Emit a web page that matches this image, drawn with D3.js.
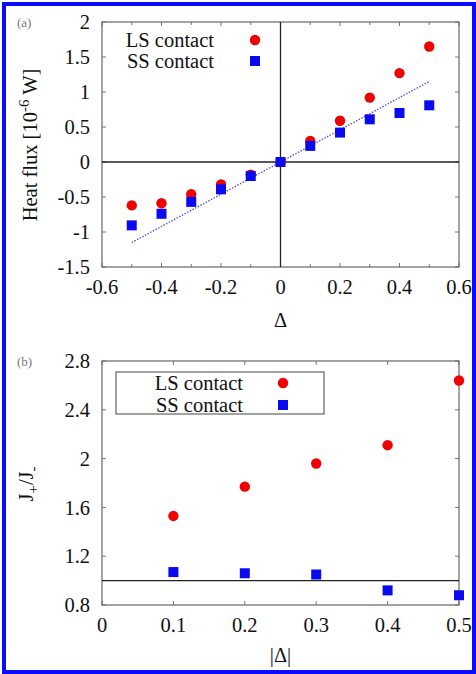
<!DOCTYPE html>
<html>
<head>
<meta charset="utf-8">
<script src="https://cdn.jsdelivr.net/npm/d3@7"></script>
<style>
  html, body { margin: 0; padding: 0; background: #fff; }
</style>
</head>
<body>
<svg id="viz" width="476" height="674" style="font-family: 'Liberation Serif', 'DejaVu Serif', serif;"></svg>
<script>
// panel (a) data
var deltaA = [-0.5, -0.4, -0.3, -0.2, -0.1, 0, 0.1, 0.2, 0.3, 0.4, 0.5];
var lsFlux = [-0.62, -0.59, -0.46, -0.32, -0.18, 0, 0.30, 0.59, 0.92, 1.27, 1.65];
var ssFlux = [-0.905, -0.74, -0.57, -0.39, -0.20, 0, 0.23, 0.42, 0.61, 0.70, 0.81];
var fitX = [-0.5, 0.5];
var fitY = [-1.15, 1.15];
var xTicksA = [-0.6, -0.4, -0.2, 0, 0.2, 0.4, 0.6];
var yTicksA = [-1.5, -1, -0.5, 0, 0.5, 1, 1.5, 2];

// panel (b) data
var deltaB = [0.1, 0.2, 0.3, 0.4, 0.5];
var lsRatio = [1.53, 1.77, 1.96, 2.11, 2.64];
var ssRatio = [1.07, 1.06, 1.05, 0.92, 0.88];
var xTicksB = [0, 0.1, 0.2, 0.3, 0.4, 0.5];
var yTicksB = [0.8, 1.2, 1.6, 2, 2.4, 2.8];

var red = "#f00000";
var blue = "#0a0af0";
var fs = 20.5;
var serif = "'Liberation Serif', 'DejaVu Serif', serif";

var svg = d3.select("#viz");

// blue frame round the whole figure
svg.append("rect")
  .attr("x", 4).attr("y", 4)
  .attr("width", 470).attr("height", 668)
  .attr("fill", "none")
  .attr("stroke", "#0a0aff")
  .attr("stroke-width", 4);

function fmt(d) {
  return String(+d.toFixed(2));
}

function label(g) {
  return g.append("text")
    .attr("font-family", serif)
    .style("font-family", serif)
    .style("font-size", fs + "px")
    .style("fill", "#111");
}

function panel(opts) {
  var x = d3.scaleLinear().domain(opts.xDomain).range([102, 459]);
  var y = d3.scaleLinear().domain(opts.yDomain).range([opts.bottom, opts.top]);
  var g = svg.append("g");

  // ticks inside the frame, on all four sides
  opts.xMinor.forEach(function(t) {
    var major = opts.xTicks.some(function(m) { return Math.abs(m - t) < 1e-9; });
    var len = major ? 4 : 3;
    g.append("line").attr("x1", x(t)).attr("x2", x(t))
      .attr("y1", y.range()[0]).attr("y2", y.range()[0] - len)
      .attr("stroke", "#777");
    g.append("line").attr("x1", x(t)).attr("x2", x(t))
      .attr("y1", y.range()[1]).attr("y2", y.range()[1] + len)
      .attr("stroke", "#777");
  });
  opts.yTicks.forEach(function(t) {
    g.append("line").attr("x1", 102).attr("x2", 106)
      .attr("y1", y(t)).attr("y2", y(t)).attr("stroke", "#777");
    g.append("line").attr("x1", 459).attr("x2", 455)
      .attr("y1", y(t)).attr("y2", y(t)).attr("stroke", "#777");
  });

  g.append("rect")
    .attr("x", 102).attr("y", opts.top)
    .attr("width", 357).attr("height", opts.bottom - opts.top)
    .attr("fill", "none").attr("stroke", "#666").attr("stroke-width", 1.2);

  // tick labels
  opts.xTicks.forEach(function(d) {
    label(g).attr("x", x(d)).attr("y", opts.bottom + 27)
      .attr("text-anchor", "middle").text(fmt(d));
  });
  opts.yTicks.forEach(function(d) {
    label(g).attr("x", 90).attr("y", y(d)).attr("dy", "0.35em")
      .attr("text-anchor", "end")
      .text(opts.yFmt ? opts.yFmt(d) : fmt(d));
  });

  // panel tag
  label(g).attr("x", 17).attr("y", opts.top + 5)
    .style("font-size", "13px").style("fill", "#777")
    .text(opts.tag);

  return { g: g, x: x, y: y };
}

// ---------- panel (a)
var A = panel({
  xDomain: [-0.6, 0.6], yDomain: [-1.5, 2],
  top: 22, bottom: 267,
  xTicks: xTicksA, xMinor: d3.range(-6, 7).map(function(i) { return i / 10; }),
  yTicks: yTicksA, tag: "(a)"
});

A.g.append("line").attr("x1", A.x(0)).attr("x2", A.x(0))
  .attr("y1", 22).attr("y2", 267).attr("stroke", "#222").attr("stroke-width", 1.3);
A.g.append("line").attr("x1", 102).attr("x2", 459)
  .attr("y1", A.y(0)).attr("y2", A.y(0)).attr("stroke", "#222").attr("stroke-width", 1.3);

A.g.append("path")
  .datum(d3.zip(fitX, fitY))
  .attr("d", d3.line().x(function(d) { return A.x(d[0]); }).y(function(d) { return A.y(d[1]); }))
  .attr("fill", "none")
  .attr("stroke", "#4a4ae0")
  .attr("stroke-width", 1.3)
  .attr("stroke-dasharray", "1.5,1.5");

A.g.selectAll(".ls").data(d3.zip(deltaA, lsFlux)).enter().append("circle")
  .attr("cx", function(d) { return A.x(d[0]); })
  .attr("cy", function(d) { return A.y(d[1]); })
  .attr("r", 5.2).attr("fill", red);
A.g.selectAll(".ss").data(d3.zip(deltaA, ssFlux)).enter().append("rect")
  .attr("x", function(d) { return A.x(d[0]) - 5; })
  .attr("y", function(d) { return A.y(d[1]) - 5; })
  .attr("width", 10).attr("height", 10).attr("fill", blue);

// legend (a)
label(A.g).attr("x", 214).attr("y", 47).attr("text-anchor", "end").text("LS contact");
label(A.g).attr("x", 214).attr("y", 68).attr("text-anchor", "end").text("SS contact");
A.g.append("circle").attr("cx", 255).attr("cy", 40).attr("r", 5.2).attr("fill", red);
A.g.append("rect").attr("x", 250).attr("y", 56).attr("width", 10).attr("height", 10).attr("fill", blue);

// axis titles (a)
label(A.g).attr("x", A.x(0)).attr("y", 327).attr("text-anchor", "middle").text("Δ");
var yl = label(A.g)
  .attr("transform", "translate(37,145) rotate(-90)")
  .attr("text-anchor", "middle");
yl.append("tspan").text("Heat flux [10");
yl.append("tspan").attr("dy", -8).style("font-size", "15px").text("-6");
yl.append("tspan").attr("dy", 8).text(" W]");

// ---------- panel (b)
var B = panel({
  xDomain: [0, 0.5], yDomain: [0.8, 2.8],
  top: 361, bottom: 605,
  xTicks: xTicksB, xMinor: xTicksB,
  yTicks: yTicksB, tag: "(b)",
  yFmt: function(d) { return d3.format(".1f")(d).replace(/\.0$/, ""); }
});

B.g.append("line").attr("x1", 102).attr("x2", 459)
  .attr("y1", B.y(1)).attr("y2", B.y(1)).attr("stroke", "#222").attr("stroke-width", 1.3);

B.g.selectAll(".ls").data(d3.zip(deltaB, lsRatio)).enter().append("circle")
  .attr("cx", function(d) { return B.x(d[0]); })
  .attr("cy", function(d) { return B.y(d[1]); })
  .attr("r", 5.2).attr("fill", red);
B.g.selectAll(".ss").data(d3.zip(deltaB, ssRatio)).enter().append("rect")
  .attr("x", function(d) { return B.x(d[0]) - 5; })
  .attr("y", function(d) { return B.y(d[1]) - 5; })
  .attr("width", 10).attr("height", 10).attr("fill", blue);

// legend (b)
B.g.append("rect").attr("x", 116).attr("y", 372).attr("width", 208).attr("height", 42)
  .attr("fill", "#fff").attr("stroke", "#444").attr("stroke-width", 1);
label(B.g).attr("x", 243).attr("y", 390).attr("text-anchor", "end").text("LS contact");
label(B.g).attr("x", 243).attr("y", 412).attr("text-anchor", "end").text("SS contact");
B.g.append("circle").attr("cx", 283).attr("cy", 383).attr("r", 5.2).attr("fill", red);
B.g.append("rect").attr("x", 278).attr("y", 400).attr("width", 10).attr("height", 10).attr("fill", blue);

// axis titles (b)
label(B.g).attr("x", B.x(0.25)).attr("y", 662).attr("text-anchor", "middle").text("|Δ|");
var yl2 = label(B.g)
  .attr("transform", "translate(33,484) rotate(-90)")
  .attr("text-anchor", "middle");
yl2.append("tspan").text("J");
yl2.append("tspan").attr("dy", 5).style("font-size", "15px").text("+");
yl2.append("tspan").attr("dy", -5).text("/J");
yl2.append("tspan").attr("dy", 5).style("font-size", "15px").text("-");
</script>
</body>
</html>
